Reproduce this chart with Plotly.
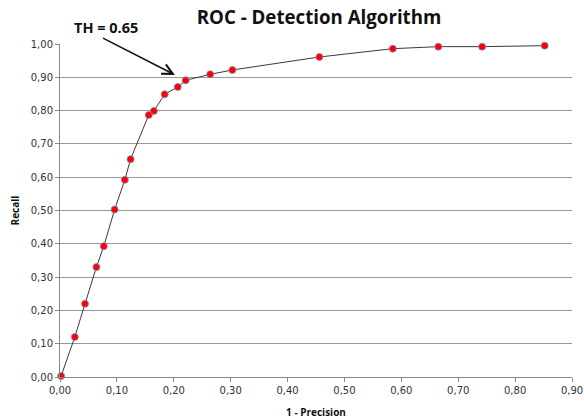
import plotly.graph_objects as go

fpr = [0.002, 0.026, 0.044, 0.064, 0.077, 0.096, 0.114, 0.124, 0.156, 0.165,
       0.184, 0.207, 0.221, 0.264, 0.303, 0.456, 0.585, 0.665, 0.742, 0.852]
recall = [0.003, 0.12, 0.22, 0.33, 0.393, 0.503, 0.592, 0.654, 0.787, 0.799,
          0.849, 0.871, 0.891, 0.909, 0.922, 0.961, 0.986, 0.992, 0.992, 0.995]
x_ticks = [0.0, 0.1, 0.2, 0.3, 0.4, 0.5, 0.6, 0.7, 0.8, 0.9]
y_ticks = [0.0, 0.1, 0.2, 0.3, 0.4, 0.5, 0.6, 0.7, 0.8, 0.9, 1.0]

fig = go.Figure()
fig.add_trace(go.Scatter(
    x=fpr, y=recall, mode="lines+markers",
    line=dict(color="#3a3a3a", width=1),
    marker=dict(color="#ff0000", size=7, line=dict(color="#7f8fc0", width=0.8)),
    showlegend=False, cliponaxis=False,
))

fig.update_layout(
    width=584, height=419,
    margin=dict(l=60, r=12, t=44, b=42, autoexpand=False),
    paper_bgcolor="white", plot_bgcolor="white",
    separators=", ",
    title=dict(text="<b>ROC - Detection Algorithm</b>", x=319 / 584, xanchor="center",
               y=1 - 17 / 419, yanchor="middle",
               font=dict(family="Open Sans", size=18.7, color="#111111")),
    font=dict(family="DejaVu Sans", size=10, color="#222222"),
)
fig.update_xaxes(
    range=[0, 0.9], tickvals=x_ticks, tickformat=".2f", automargin=False,
    showgrid=False, zeroline=False,
    showline=True, linecolor="#888888", linewidth=1,
    ticks="outside", ticklen=4, tickcolor="#888888",
    tickfont=dict(family="DejaVu Sans", size=10, color="#333333"),
    title=dict(text="<b>1 - Precision</b>", font=dict(family="Open Sans", size=10, color="#111111"),
               standoff=13),
)
fig.update_yaxes(
    range=[0, 1.0], tickvals=y_ticks, tickformat=".2f", automargin=False,
    showgrid=True, gridcolor="#999999", gridwidth=1, zeroline=False,
    showline=True, linecolor="#888888", linewidth=1,
    ticks="outside", ticklen=4, tickcolor="#888888",
    tickfont=dict(family="DejaVu Sans", size=10, color="#333333"),
    title=dict(text="<b>Recall</b>", font=dict(family="Open Sans", size=10, color="#111111"),
               standoff=9),
)

fig.add_annotation(
    x=0.202, y=0.907, xref="x", yref="y",
    ax=0.073, ay=1.02, axref="x", ayref="y",
    text="", showarrow=True, arrowhead=5, arrowsize=1.3, arrowwidth=1.6,
    arrowcolor="#111111",
)
fig.add_annotation(
    x=0.09, y=1.051, xref="paper", yref="paper", xanchor="center", yanchor="middle",
    text="<b>TH = 0.65</b>", showarrow=False,
    font=dict(family="Open Sans", size=14.5, color="#111111"),
)

fig.write_html("out.html", config={"displayModeBar": False},
               post_script="document.body.style.margin='0';")
